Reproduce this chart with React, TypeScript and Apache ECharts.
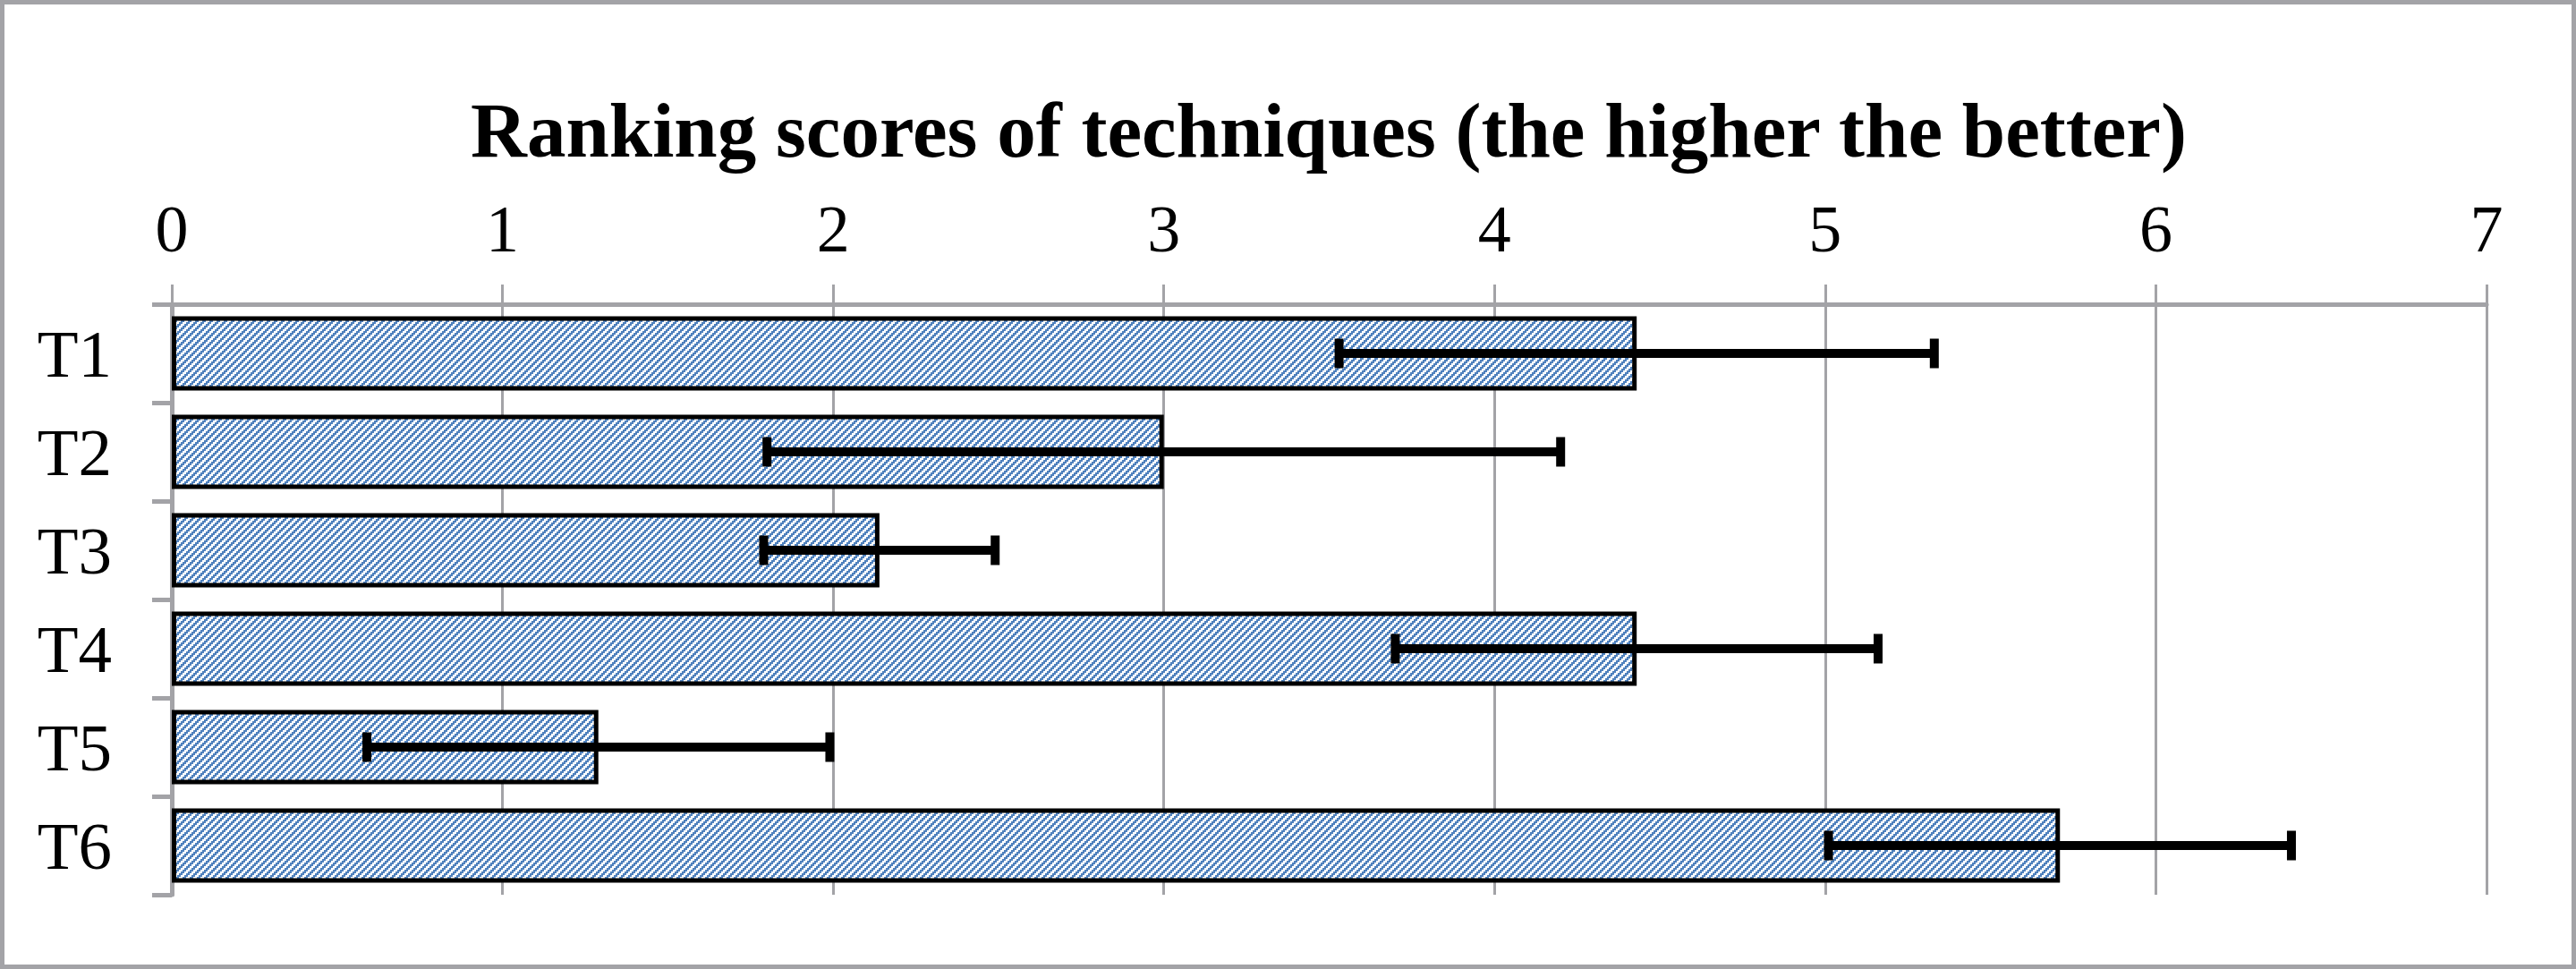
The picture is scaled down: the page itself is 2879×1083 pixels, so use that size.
import React, { useEffect, useRef } from 'react';
import * as echarts from 'echarts';

const categories = ['T1', 'T2', 'T3', 'T4', 'T5', 'T6'];
const scores = [4.43, 3.0, 2.14, 4.43, 1.29, 5.71];
const errors = [0.9, 1.2, 0.35, 0.73, 0.7, 0.7];
const axisMin = 0;
const axisMax = 7;
const axisStep = 1;
const titleText = 'Ranking scores of techniques (the higher the better)';

const GRAY = '#a3a3a7';
const BLUE = '#4F81BD';
const FONT = '"Liberation Serif", "Times New Roman", serif';

function makePattern(): HTMLCanvasElement {
  const c = document.createElement('canvas');
  c.width = 8;
  c.height = 8;
  const ctx = c.getContext('2d')!;
  ctx.fillStyle = '#ffffff';
  ctx.fillRect(0, 0, 8, 8);
  ctx.fillStyle = BLUE;
  for (let y = 0; y < 8; y++) {
    for (let x = 0; x < 8; x++) {
      if ((Math.floor(x / 2) + Math.floor(y / 2)) % 4 < 2) ctx.fillRect(x, y, 1, 1);
    }
  }
  return c;
}

export default function App() {
  const ref = useRef<HTMLDivElement>(null);

  useEffect(() => {
    if (!ref.current) return;
    const chart = echarts.init(ref.current, null, { renderer: 'svg' });
    const pattern = makePattern();
    const errData = categories.map((c, i) => [i, scores[i] - errors[i], scores[i] + errors[i]]);

    chart.setOption({
      animation: false,
      backgroundColor: '#ffffff',
      title: {
        text: titleText,
        left: 1485,
        top: 102,
        padding: 0,
        textAlign: 'center',
        textStyle: {
          fontFamily: FONT,
          fontWeight: 'bold',
          fontSize: 87,
          color: '#000',
        },
      },
      graphic: [
        {
          type: 'rect',
          shape: { x: 2.5, y: 2.5, width: 2874, height: 1078 },
          style: { fill: 'none', stroke: GRAY, lineWidth: 5 },
          silent: true,
        },
      ],
      grid: { left: 192, right: 100, top: 340, bottom: 83, containLabel: false },
      xAxis: {
        type: 'value',
        position: 'top',
        min: axisMin,
        max: axisMax,
        interval: axisStep,
        axisLine: { show: true, lineStyle: { color: GRAY, width: 5 } },
        axisTick: { show: true, length: 22, inside: false, lineStyle: { color: GRAY, width: 3 } },
        splitLine: { show: true, lineStyle: { color: GRAY, width: 3 } },
        axisLabel: { fontFamily: FONT, fontSize: 74, color: '#000', margin: 47 },
      },
      yAxis: {
        type: 'category',
        data: categories,
        inverse: true,
        axisLine: { show: true, lineStyle: { color: GRAY, width: 5 } },
        axisTick: { show: true, length: 22, lineStyle: { color: GRAY, width: 5 } },
        axisLabel: { fontFamily: FONT, fontSize: 75, color: '#000', margin: 67 },
      },
      series: [
        {
          type: 'bar',
          data: scores,
          barWidth: 83,
          itemStyle: {
            color: { image: pattern, repeat: 'repeat' },
            borderColor: '#000',
            borderWidth: 5,
          },
          z: 2,
        },
        {
          type: 'custom',
          data: errData,
          encode: { x: [1, 2], y: 0 },
          z: 5,
          renderItem: (params: any, api: any) => {
            const cat = api.value(0);
            const p1 = api.coord([api.value(1), cat]);
            const p2 = api.coord([api.value(2), cat]);
            const h = 16.5;
            const style = { stroke: '#000', lineWidth: 10 };
            return {
              type: 'group',
              children: [
                { type: 'line', shape: { x1: p1[0], y1: p1[1], x2: p2[0], y2: p2[1] }, style },
                { type: 'line', shape: { x1: p1[0], y1: p1[1] - h, x2: p1[0], y2: p1[1] + h }, style },
                { type: 'line', shape: { x1: p2[0], y1: p2[1] - h, x2: p2[0], y2: p2[1] + h }, style },
              ],
            };
          },
        },
      ],
    });

    return () => chart.dispose();
  }, []);

  return (
    <div
      ref={ref}
      style={{ position: 'fixed', left: 0, top: 0, width: 2879, height: 1083, background: '#fff' }}
    />
  );
}
